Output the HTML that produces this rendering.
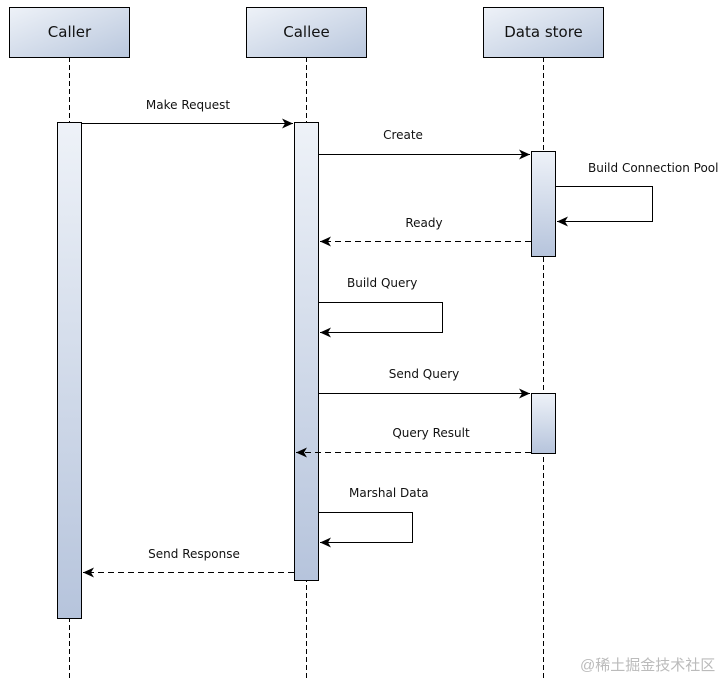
<!DOCTYPE html>
<html><head><meta charset="utf-8"><style>
body{margin:0;background:#fff;}
svg text{font-family:"DejaVu Sans","Liberation Sans",sans-serif;font-size:12px;fill:#111;}
</style></head><body>
<svg width="721" height="681" viewBox="0 0 721 681" xmlns="http://www.w3.org/2000/svg">
<defs>
<linearGradient id="g" x1="0" y1="0" x2="1" y2="1">
<stop offset="0" stop-color="#eef2f8"/><stop offset="1" stop-color="#b9c7dd"/></linearGradient>
<linearGradient id="a" x1="0" y1="0" x2="0" y2="1">
<stop offset="0" stop-color="#eef2f8"/><stop offset="1" stop-color="#b6c4dc"/></linearGradient>
<marker id="ar" markerWidth="12" markerHeight="10" refX="11" refY="5" orient="auto" markerUnits="userSpaceOnUse">
<path d="M0,0 L11,5 L0,10 L3,5 Z" fill="#000"/></marker>
</defs>
<g stroke="#000" stroke-dasharray="5,3" stroke-width="1">
<line x1="69.5" y1="57" x2="69.5" y2="681"/>
<line x1="306.5" y1="57" x2="306.5" y2="681"/>
<line x1="543.5" y1="57" x2="543.5" y2="681"/>
</g>
<g stroke="#000" stroke-width="1">
<rect x="9.5" y="7.5" width="120" height="50" fill="url(#g)"/>
<rect x="246.5" y="7.5" width="120" height="50" fill="url(#g)"/>
<rect x="483.5" y="7.5" width="120" height="50" fill="url(#g)"/>
<rect x="57.5" y="122.5" width="24" height="496" fill="url(#a)"/>
<rect x="294.5" y="122.5" width="24" height="458" fill="url(#a)"/>
<rect x="531.5" y="151.5" width="24" height="105" fill="url(#a)"/>
<rect x="531.5" y="393.5" width="24" height="60" fill="url(#a)"/>
</g>
<g font-size="15">
<text x="69.5" y="37" text-anchor="middle" style="font-size:15px">Caller</text>
<text x="306.5" y="37" text-anchor="middle" style="font-size:15px">Callee</text>
<text x="543.5" y="37" text-anchor="middle" style="font-size:15px">Data store</text>
</g>
<g stroke="#000" fill="none" stroke-width="1">
<line x1="82" y1="123.5" x2="293" y2="123.5" marker-end="url(#ar)"/>
<line x1="319" y1="154.5" x2="530" y2="154.5" marker-end="url(#ar)"/>
<polyline points="556,186.5 652.5,186.5 652.5,221.5 557,221.5" marker-end="url(#ar)"/>
<line x1="531" y1="241.5" x2="320" y2="241.5" stroke-dasharray="6,4" marker-end="url(#ar)"/>
<polyline points="319,302.5 442.5,302.5 442.5,332.5 320,332.5" marker-end="url(#ar)"/>
<line x1="319" y1="393.5" x2="530" y2="393.5" marker-end="url(#ar)"/>
<line x1="531" y1="452.5" x2="296" y2="452.5" stroke-dasharray="6,4" marker-end="url(#ar)"/>
<polyline points="319,512.5 412.5,512.5 412.5,542.5 320,542.5" marker-end="url(#ar)"/>
<line x1="294" y1="572.5" x2="83" y2="572.5" stroke-dasharray="6,4" marker-end="url(#ar)"/>
</g>
<text x="188" y="109" text-anchor="middle">Make Request</text>
<text x="403" y="139" text-anchor="middle">Create</text>
<text x="588" y="172">Build Connection Pool</text>
<text x="424" y="227" text-anchor="middle">Ready</text>
<text x="347" y="287">Build Query</text>
<text x="424" y="378" text-anchor="middle">Send Query</text>
<text x="431" y="437" text-anchor="middle">Query Result</text>
<text x="349" y="497">Marshal Data</text>
<text x="194" y="558" text-anchor="middle">Send Response</text>
<text x="580" y="670" style="font-size:15px;fill:#bbb;font-family:'Liberation Sans','Noto Sans CJK SC',sans-serif">@稀土掘金技术社区</text>
</svg>
</body></html>
